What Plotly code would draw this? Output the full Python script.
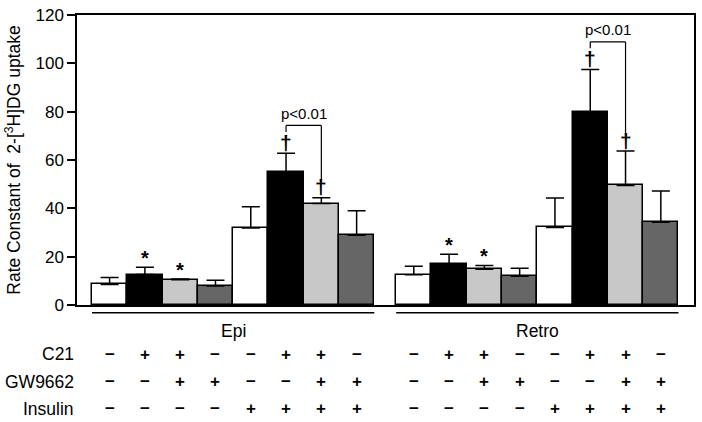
import plotly.graph_objects as go

# ---- data ----
groups = ["Epi", "Retro"]
epi_mean = [8.5, 12.6, 10.4, 7.9, 31.9, 54.9, 42.0, 28.9]
epi_err = [2.9, 3.0, 0.4, 2.3, 8.8, 7.9, 2.4, 10.1]
retro_mean = [12.5, 17.0, 14.8, 11.9, 32.1, 79.7, 49.5, 34.2]
retro_err = [3.5, 4.0, 1.5, 3.3, 12.2, 17.7, 14.2, 13.0]
bar_colors = ["#ffffff", "#000000", "#c8c8c8", "#666666",
              "#ffffff", "#000000", "#c8c8c8", "#666666"]
row_labels = ["C21", "GW9662", "Insulin"]
c21 = ["−", "+", "+", "−", "−", "+", "+", "−"]
gw9662 = ["−", "−", "+", "+", "−", "−", "+", "+"]
insulin = ["−", "−", "−", "−", "+", "+", "+", "+"]
star_bars = [1, 2]          # bars marked with *
dagger_bars = [5, 6]        # bars marked with †
pvalue_text = "p<0.01"
y_title = "Rate Constant of\u00a0 2-[<sup>3</sup>H]DG uptake"

group_offset = [0.0, 8.62]
means = [epi_mean, retro_mean]
errs = [epi_err, retro_err]

FONT = "Liberation Sans, Arial, sans-serif"
fig = go.Figure()

for g, name in enumerate(groups):
    xs = [group_offset[g] + i for i in range(8)]
    fig.add_trace(go.Bar(
        x=xs, y=means[g], width=1.0,
        marker=dict(color=bar_colors, line=dict(color="black", width=1.5)),
        error_y=dict(type="data", array=errs[g], arrayminus=[0] * 8,
                     symmetric=False, color="black", thickness=1.5, width=9),
        showlegend=False, name=name, hoverinfo="skip",
    ))

shapes = []
annotations = []

# markers above bars
for g in range(2):
    for b in star_bars:
        top = means[g][b] + errs[g][b]
        annotations.append(dict(x=group_offset[g] + b, y=top + 3.8, xref="x", yref="y",
                                text="<b>*</b>", showarrow=False,
                                font=dict(family=FONT, size=20, color="black")))
    for b in dagger_bars:
        top = means[g][b] + errs[g][b]
        annotations.append(dict(x=group_offset[g] + b, y=top + 4.5, xref="x", yref="y",
                                text="<b>†</b>", showarrow=False,
                                font=dict(family=FONT, size=21, color="black")))
    # bracket
    b1, b2 = dagger_bars
    top1 = means[g][b1] + errs[g][b1]
    top2 = means[g][b2] + errs[g][b2]
    hy = top1 + 11.5
    x1 = group_offset[g] + b1
    x2 = group_offset[g] + b2
    line = dict(color="black", width=1.2)
    shapes.append(dict(type="line", xref="x", yref="y", x0=x1, x1=x1, y0=top1 + 8.8, y1=hy, line=line))
    shapes.append(dict(type="line", xref="x", yref="y", x0=x1, x1=x2, y0=hy, y1=hy, line=line))
    shapes.append(dict(type="line", xref="x", yref="y", x0=x2, x1=x2, y0=top2 + 7.0, y1=hy, line=line))
    annotations.append(dict(x=(x1 + x2) / 2, y=hy + 5.0, xref="x", yref="y",
                            text=pvalue_text, showarrow=False,
                            font=dict(family=FONT, size=15, color="black")))

# group lines and labels
for g, name in enumerate(groups):
    x0 = group_offset[g] - 0.5
    x1 = group_offset[g] + 7.5
    shapes.append(dict(type="line", xref="x", yref="paper", x0=x0, x1=x1,
                       y0=-0.027, y1=-0.027, line=dict(color="black", width=1.5)))
    annotations.append(dict(x=(x0 + x1) / 2, y=-0.088, xref="x", yref="paper",
                            text=name, showarrow=False, yanchor="middle",
                            font=dict(family=FONT, size=17.5, color="black")))

# treatment table
rows = [c21, gw9662, insulin]
row_y = [-0.170, -0.265, -0.357]
for r, lab in enumerate(row_labels):
    annotations.append(dict(x=-0.002, y=row_y[r], xref="paper", yref="paper",
                            text=lab, showarrow=False, xanchor="right", yanchor="middle",
                            font=dict(family=FONT, size=17.5, color="black")))
    for g in range(2):
        for i, s in enumerate(rows[r]):
            annotations.append(dict(x=group_offset[g] + i, y=row_y[r], xref="x", yref="paper",
                                    text="<b>" + s + "</b>", showarrow=False, yanchor="middle",
                                    font=dict(family=FONT, size=17, color="black")))

fig.update_layout(
    width=702, height=422,
    margin=dict(l=77, r=6, t=11, b=117),
    paper_bgcolor="white", plot_bgcolor="white",
    font=dict(family=FONT, color="black"),
    bargap=0, shapes=shapes, annotations=annotations,
    xaxis=dict(range=[-0.924, 16.56], showticklabels=False, ticks="",
               showgrid=False, zeroline=False, showline=True, linecolor="black",
               linewidth=1.5, mirror=True),
    yaxis=dict(range=[0, 120], dtick=20, ticks="outside", ticklen=8, tickwidth=1.5,
               tickcolor="black", showgrid=False, zeroline=False, showline=True,
               linecolor="black", linewidth=1.5, mirror=True,
               tickfont=dict(family=FONT, size=17, color="black"),
               title=dict(text=y_title, font=dict(family=FONT, size=17.5, color="black"),
                          standoff=10)),
)

fig.write_html("out.html", config={"displayModeBar": False},
               post_script="document.body.style.margin='0';")
